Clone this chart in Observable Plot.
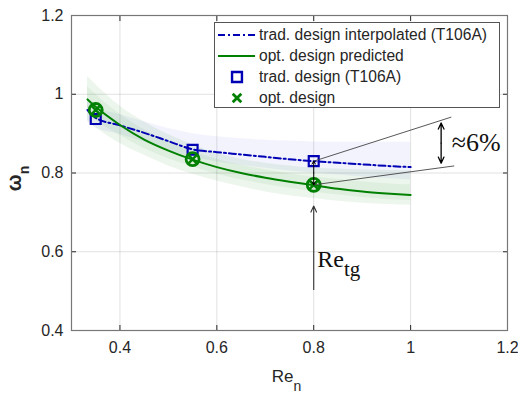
<!DOCTYPE html>
<html><head><meta charset="utf-8">
<script src="https://cdn.jsdelivr.net/npm/d3@7"></script>
<script src="https://cdn.jsdelivr.net/npm/@observablehq/plot@0.6"></script>
<style>body{margin:0;background:#fff} svg{display:block}</style>
</head><body><div id="chart"></div>
<script>
// ---- data ----
const reCurve     = [0.333, 0.35, 0.40, 0.45, 0.50, 0.55, 0.60, 0.65, 0.70, 0.75, 0.80, 0.85, 0.90, 0.95, 1.00];
const tradInterp  = [0.960, 0.940, 0.921, 0.902, 0.881, 0.860, 0.853, 0.847, 0.841, 0.835, 0.830, 0.826, 0.822, 0.818, 0.815];
const tradBandLo  = [0.935, 0.915, 0.898, 0.878, 0.858, 0.840, 0.828, 0.820, 0.812, 0.805, 0.800, 0.795, 0.790, 0.786, 0.782];
const tradBandHi  = [0.985, 0.968, 0.948, 0.930, 0.913, 0.900, 0.892, 0.887, 0.883, 0.881, 0.879, 0.878, 0.878, 0.878, 0.878];
const optPred     = [0.987, 0.968, 0.922, 0.885, 0.857, 0.834, 0.815, 0.800, 0.788, 0.778, 0.769, 0.760, 0.753, 0.748, 0.744];
const optOuterLo  = [0.930, 0.915, 0.875, 0.845, 0.818, 0.797, 0.780, 0.765, 0.752, 0.742, 0.735, 0.728, 0.723, 0.720, 0.718];
const optOuterHi  = [1.045, 1.025, 0.970, 0.930, 0.898, 0.872, 0.850, 0.835, 0.825, 0.818, 0.812, 0.810, 0.808, 0.807, 0.806];
const optInnerLo  = [0.955, 0.935, 0.895, 0.862, 0.836, 0.815, 0.797, 0.783, 0.771, 0.761, 0.752, 0.744, 0.738, 0.733, 0.730];
const optInnerHi  = [1.020, 1.000, 0.950, 0.910, 0.880, 0.855, 0.835, 0.820, 0.808, 0.798, 0.790, 0.784, 0.778, 0.773, 0.770];

const reDesign    = [0.35, 0.55, 0.80];
const tradDesign  = [0.937, 0.859, 0.830];
const optDesign   = [0.960, 0.835, 0.770];

const xTicks = [0.4, 0.6, 0.8, 1, 1.2];
const yTicks = [0.4, 0.6, 0.8, 1, 1.2];

const legendLabels = ["trad. design interpolated (T106A)", "opt. design predicted", "trad. design (T106A)", "opt. design"];

// annotations (data coordinates)
const leaderFrom = [[0.80, 0.830], [0.80, 0.770]];
const leaderTo   = [[1.084, 0.942], [1.090, 0.818]];
const gapArrow   = {x: 1.063, y1: 0.927, y2: 0.825, label: "≈6%"};
const targetArrow = {x: 0.80, from: 0.504, to: 0.716, label: "Re", sub: "tg"};

// ---- tables ----
const curve = reCurve.map((x, i) => ({
  x, trad: tradInterp[i], tLo: tradBandLo[i], tHi: tradBandHi[i],
  opt: optPred[i], oLo: optOuterLo[i], oHi: optOuterHi[i], iLo: optInnerLo[i], iHi: optInnerHi[i]
}));
const designs = reDesign.map((x, i) => ({x, trad: tradDesign[i], opt: optDesign[i]}));
const leaders = leaderFrom.map((f, i) => ({x1: f[0], y1: f[1], x2: leaderTo[i][0], y2: leaderTo[i][1]}));
const gapArrows = [
  {x1: gapArrow.x, y1: (gapArrow.y1 + gapArrow.y2) / 2, x2: gapArrow.x, y2: gapArrow.y1},
  {x1: gapArrow.x, y1: (gapArrow.y1 + gapArrow.y2) / 2, x2: gapArrow.x, y2: gapArrow.y2}
];
const smallArrows = [
  {x1: 0.80, y1: (tradDesign[2] + optDesign[2]) / 2, x2: 0.80, y2: tradDesign[2]},
  {x1: 0.80, y1: (tradDesign[2] + optDesign[2]) / 2, x2: 0.80, y2: optDesign[2]}
];

const BLUE = "#0000b4", GREEN = "#008000";
const fmt = d => String(d);

const plot = Plot.plot({
  width: 518, height: 393,
  marginLeft: 71, marginRight: 11, marginTop: 15, marginBottom: 63,
  style: {fontFamily: "'Liberation Sans', Arial, sans-serif", fontSize: "16px", color: "#262626", background: "#fff", overflow: "visible"},
  x: {domain: [0.3, 1.2]},
  y: {domain: [0.4, 1.2]},
  marks: [
    Plot.gridX(xTicks, {stroke: "#000", strokeOpacity: 0.12}),
    Plot.gridY(yTicks, {stroke: "#000", strokeOpacity: 0.12}),
    Plot.areaY(curve, {x: "x", y1: "tLo", y2: "tHi", fill: "#3030e0", fillOpacity: 0.06, curve: "monotone-x"}),
    Plot.areaY(curve, {x: "x", y1: "oLo", y2: "oHi", fill: GREEN, fillOpacity: 0.07, curve: "monotone-x"}),
    Plot.areaY(curve, {x: "x", y1: "iLo", y2: "iHi", fill: GREEN, fillOpacity: 0.06, curve: "monotone-x"}),
    Plot.lineY(curve, {x: "x", y: "trad", stroke: BLUE, strokeWidth: 2, strokeDasharray: "7,3,2,3", curve: "monotone-x"}),
    Plot.lineY(curve, {x: "x", y: "opt", stroke: GREEN, strokeWidth: 2, curve: "monotone-x"}),
    Plot.dot(designs, {x: "x", y: "trad", symbol: "square", r: 5.6, stroke: BLUE, strokeWidth: 2.2, fill: "none"}),
    Plot.dot(designs, {x: "x", y: "opt", symbol: "circle", r: 6.5, stroke: GREEN, strokeWidth: 2.8, fill: "none"}),
    Plot.dot(designs, {x: "x", y: "opt", symbol: "times", r: 4, stroke: GREEN, strokeWidth: 2.5}),
    Plot.link(leaders, {x1: "x1", y1: "y1", x2: "x2", y2: "y2", stroke: "#444", strokeWidth: 0.9}),
    Plot.arrow(gapArrows, {x1: "x1", y1: "y1", x2: "x2", y2: "y2", stroke: "#000", strokeWidth: 1.3, headLength: 9, headAngle: 50}),
    Plot.arrow(smallArrows, {x1: "x1", y1: "y1", x2: "x2", y2: "y2", stroke: "#000", strokeWidth: 1, headLength: 5}),
    Plot.arrow([targetArrow], {x1: "x", y1: "from", x2: "x", y2: "to", stroke: "#333", strokeWidth: 1.1, headLength: 9, headAngle: 50}),
    Plot.axisX(xTicks, {anchor: "bottom", tickSize: -5, tickPadding: 16, tickFormat: fmt, fontSize: 16, stroke: "#262626", label: null}),
    Plot.axisX(xTicks, {anchor: "top", tickSize: -5, tickFormat: () => "", stroke: "#262626", label: null}),
    Plot.axisY(yTicks, {anchor: "left", tickSize: -5, tickPadding: 13, tickFormat: fmt, fontSize: 16, stroke: "#262626", label: null}),
    Plot.axisY(yTicks, {anchor: "right", tickSize: -5, tickFormat: () => "", stroke: "#262626", label: null}),
    Plot.frame({stroke: "#777", strokeWidth: 1.2})
  ]
});

document.getElementById("chart").appendChild(plot);

// ---- texts with subscripts, legend ----
const svg = d3.select(plot);
const sx = plot.scale("x"), sy = plot.scale("y");
const X = v => sx.apply(v), Y = v => sy.apply(v);

// axis labels
const yl = svg.append("text")
  .attr("transform", `translate(21,${(Y(0.8) + 6)}) rotate(-90)`)
  .attr("text-anchor", "middle")
  .attr("font-family", "'Liberation Sans', Arial, sans-serif")
  .attr("font-size", 20).attr("font-weight", "bold").attr("fill", "#262626");
yl.append("tspan").text("ω");
yl.append("tspan").attr("font-size", 14).attr("dy", 8).text("n");

const xl = svg.append("text")
  .attr("x", X(0.7) + 7).attr("y", 382)
  .attr("text-anchor", "start")
  .attr("font-family", "'Liberation Sans', Arial, sans-serif")
  .attr("font-size", 17).attr("fill", "#262626");
xl.append("tspan").text("Re");
xl.append("tspan").attr("font-size", 14).attr("dy", 9).text("n");

// ≈6%
svg.append("text")
  .attr("x", X(gapArrow.x) + 11).attr("y", Y((gapArrow.y1 + gapArrow.y2) / 2) + 8)
  .attr("text-anchor", "start")
  .attr("font-family", "'Liberation Serif', 'Times New Roman', serif")
  .attr("font-size", 26).attr("fill", "#111").text(gapArrow.label);

// Re_tg
const rt = svg.append("text")
  .attr("x", X(targetArrow.x) + 4).attr("y", Y(0.56))
  .attr("text-anchor", "start")
  .attr("font-family", "'Liberation Serif', 'Times New Roman', serif")
  .attr("font-size", 24).attr("fill", "#111");
rt.append("tspan").text(targetArrow.label);
rt.append("tspan").attr("font-size", 21).attr("dy", 9).text(targetArrow.sub);

// legend
const lg = svg.append("g").attr("font-family", "'Liberation Sans', Arial, sans-serif").attr("font-size", 15.6).attr("fill", "#262626").attr("text-anchor", "start");
lg.append("rect").attr("x", 214.5).attr("y", 22.5).attr("width", 285).attr("height", 85)
  .attr("fill", "#fff").attr("stroke", "#555").attr("stroke-width", 1);
const rowY = i => 35 + i * 21;
lg.append("line").attr("x1", 218).attr("x2", 255).attr("y1", rowY(0)).attr("y2", rowY(0))
  .attr("stroke", BLUE).attr("stroke-width", 2).attr("stroke-dasharray", "7,3,2,3");
lg.append("line").attr("x1", 218).attr("x2", 255).attr("y1", rowY(1)).attr("y2", rowY(1))
  .attr("stroke", GREEN).attr("stroke-width", 2);
lg.append("path").attr("d", d3.symbol(d3.symbolSquare, 98)()).attr("transform", `translate(237,${rowY(2)})`)
  .attr("fill", "none").attr("stroke", BLUE).attr("stroke-width", 2.4);
lg.append("path").attr("d", d3.symbol(d3.symbolTimes, 50)()).attr("transform", `translate(237,${rowY(3)})`)
  .attr("fill", "none").attr("stroke", GREEN).attr("stroke-width", 2.8);
legendLabels.forEach((t, i) => {
  lg.append("text").attr("x", 259).attr("y", rowY(i)).attr("dy", "0.35em").attr("text-anchor", "start").text(t);
});
</script>
</body></html>
